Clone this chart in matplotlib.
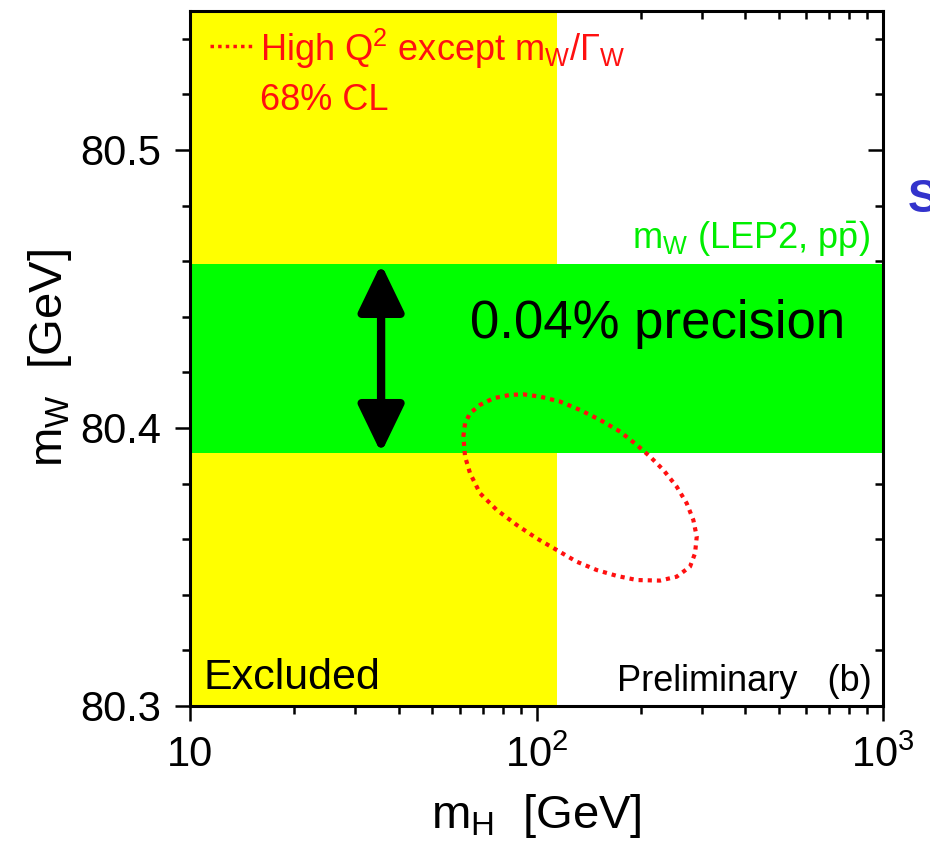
import matplotlib
matplotlib.use("Agg")
from matplotlib import pyplot as plt

plt.rcParams["font.family"] = ["Liberation Sans", "DejaVu Sans"]
plt.rcParams["mathtext.fontset"] = "custom"
plt.rcParams["mathtext.rm"] = "Liberation Sans"
plt.rcParams["mathtext.it"] = "Liberation Sans:italic"
plt.rcParams["mathtext.bf"] = "Liberation Sans:bold"
plt.rcParams["mathtext.default"] = "regular"

# --- datos ---
mh_range = (10, 1000)
mw_range = (80.3, 80.55)
mh_excluded = 114.4          # limite directo LEP
mw_low, mw_high = 80.391, 80.459   # banda m_W (LEP2, ppbar)
arrow_mh = 35.6

# contorno 68% CL (High Q^2 excepto mW/GammaW)
ellipse_mh = [61.5, 62.2, 64.3, 68.7, 75.1, 83.8, 91.6, 102.3, 116.9, 133.5,
              152.5, 174.2, 194.7, 212.6, 232.3, 253.8, 271.3, 283.5, 290.0, 286.7,
              277.3, 253.8, 227.2, 194.7, 170.4, 149.2, 130.6, 114.4, 100.1, 87.7,
              76.8, 68.7, 64.3, 62.2, 61.5]
ellipse_mw = [80.3969, 80.4017, 80.4053, 80.4083, 80.4107, 80.4119, 80.4121, 80.4113,
              80.4095, 80.4065, 80.4029, 80.3987, 80.3939, 80.3897, 80.3849, 80.3789,
              80.3729, 80.3669, 80.3609, 80.3549, 80.3501, 80.3465, 80.3451, 80.3453,
              80.3468, 80.3489, 80.3519, 80.3561, 80.3603, 80.3651, 80.3705, 80.3765,
              80.3837, 80.3897, 80.3969]

xticks = [10, 100, 1000]
xtick_labels = ["10", "10$^2$", "10$^3$"]
yticks = [80.3, 80.4, 80.5]
ytick_labels = ["80.3", "80.4", "80.5"]

fig = plt.figure(figsize=(9.3, 8.52), dpi=100)
ax = fig.add_axes([0.2043, 0.1714, 0.7452, 0.8157])
ax.set_xscale("log")
ax.set_xlim(*mh_range)
ax.set_ylim(*mw_range)
ax.set_axisbelow(True)

ax.axvspan(mh_range[0], mh_excluded, color="#ffff00", lw=0, zorder=1)
ax.axhspan(mw_low, mw_high, color="#00ff00", lw=0, zorder=1.1)

ax.plot(ellipse_mh, ellipse_mw, color="#ff1010", ls=(0, (1, 1.2)), lw=3, zorder=3)

ax.annotate("", xy=(arrow_mh, mw_low), xytext=(arrow_mh, mw_high),
            arrowprops=dict(arrowstyle="<|-|>,head_length=1.45,head_width=0.7",
                            mutation_scale=20, lw=6, color="black",
                            shrinkA=0, shrinkB=0), zorder=4)

# textos
ax.plot([0.029, 0.089], [0.950, 0.950], transform=ax.transAxes, color="#ff1010",
        ls=(0, (1, 1.2)), lw=2.5, zorder=4)
ax.text(0.101, 0.945, r"High Q$^2$ except m$_W$/$\Gamma_W$", transform=ax.transAxes,
        color="#ff1010", fontsize=26, va="center", ha="left")
ax.text(0.101, 0.871, "68% CL", transform=ax.transAxes, color="#ff1010",
        fontsize=26, va="center", ha="left")
ax.text(0.981, 0.672, r"m$_W$ (LEP2, p$\bar{p}$)", transform=ax.transAxes,
        color="#00ee00", fontsize=26, va="center", ha="right")
ax.text(0.404, 0.550, "0.04% precision", transform=ax.transAxes, color="black",
        fontsize=38, va="center", ha="left", zorder=5)
ax.text(0.019, 0.040, "Excluded", transform=ax.transAxes, color="black",
        fontsize=31, va="center", ha="left")
ax.text(0.983, 0.035, "Preliminary   (b)", transform=ax.transAxes, color="black",
        fontsize=26, va="center", ha="right")

fig.text(908 / 930, 1 - 200 / 852, "S", color="#3333cc", fontsize=33,
         fontweight="bold", va="center", ha="left")

# ejes
ax.set_xticks(xticks)
ax.set_xticklabels(xtick_labels)
ax.set_yticks(yticks)
ax.set_yticklabels(ytick_labels)
ax.set_yticks([80.32, 80.34, 80.36, 80.38, 80.42, 80.44, 80.46, 80.48, 80.52, 80.54], minor=True)

ax.tick_params(which="both", top=True, right=True, width=1.8, labelsize=30, color="black")
ax.tick_params(which="major", length=11, pad=10)
ax.tick_params(which="minor", length=6)
ax.tick_params(axis="x", which="both", direction="out")
ax.tick_params(axis="y", which="both", direction="out")
for t in ax.xaxis.get_ticklines(minor=False)[1::2] + ax.xaxis.get_ticklines(minor=True)[1::2]:
    t.set_marker(3)
for t in ax.yaxis.get_ticklines(minor=False)[1::2] + ax.yaxis.get_ticklines(minor=True)[1::2]:
    t.set_marker(0)

for s in ax.spines.values():
    s.set_linewidth(2.2)
    s.set_zorder(6)

ax.set_xlabel("m$_H$  [GeV]", fontsize=34, labelpad=12)
ax.set_ylabel("m$_W$  [GeV]", fontsize=34, labelpad=4)

fig.savefig("out.png", dpi=100)
